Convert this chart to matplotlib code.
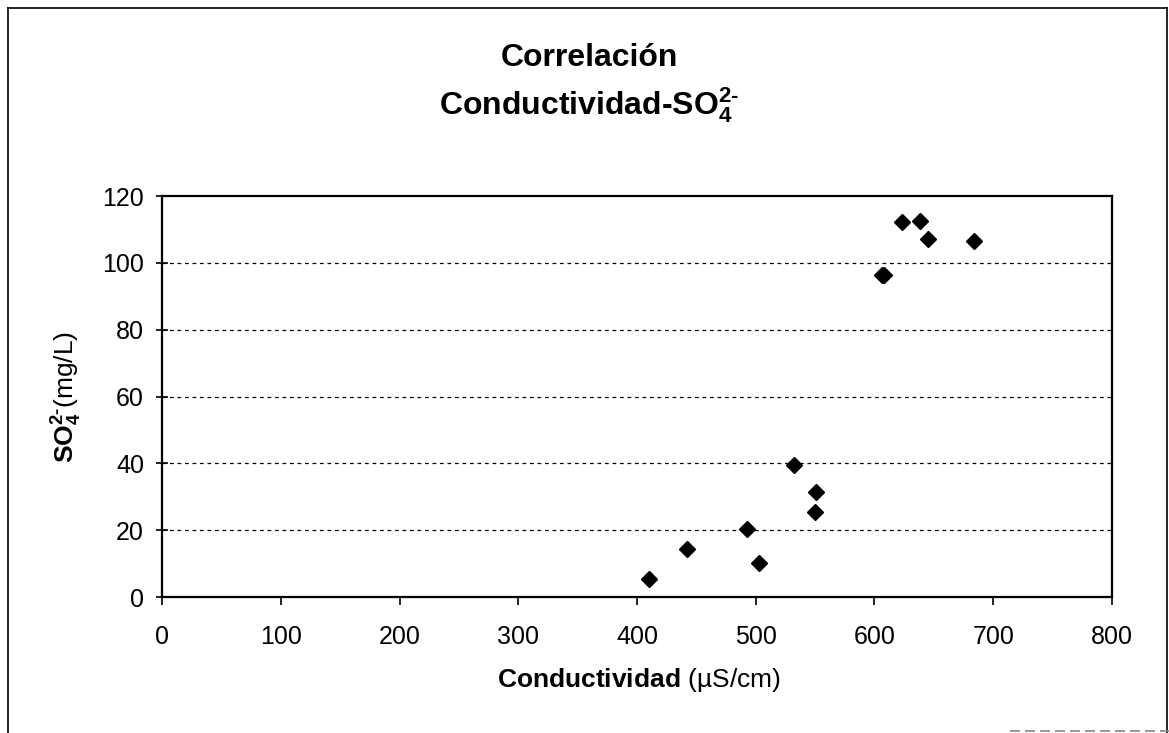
import matplotlib
matplotlib.use('Agg')
import matplotlib.pyplot as plt
from matplotlib.lines import Line2D

plt.rcParams['font.family'] = ['Liberation Sans', 'DejaVu Sans']
plt.rcParams['mathtext.fontset'] = 'custom'
plt.rcParams['mathtext.rm'] = 'Liberation Sans'
plt.rcParams['mathtext.it'] = 'Liberation Sans:italic'
plt.rcParams['mathtext.bf'] = 'Liberation Sans:bold'

# datos
conductividad = [410, 442, 493, 503, 532, 551, 550, 606, 608, 623, 638, 645, 684]
sulfato = [5.3, 14.3, 20.3, 10.3, 39.5, 31.5, 25.5, 96.5, 96.5, 112.3, 112.5, 107.2, 106.5]
x_ticks = [0, 100, 200, 300, 400, 500, 600, 700, 800]
y_ticks = [0, 20, 40, 60, 80, 100, 120]

fig = plt.figure(figsize=(11.69, 7.33), dpi=100)
ax = fig.add_axes([0.1386, 0.1855, 0.8126, 0.5471])

ax.plot(conductividad, sulfato, 'D', color='black', markersize=8, linestyle='none', zorder=3)

ax.set_xlim(0, 800)
ax.set_ylim(0, 120)
ax.set_xticks(x_ticks)
ax.set_yticks(y_ticks)
ax.tick_params(axis='x', direction='out', length=6, width=1.2, pad=14, labelsize=18)
ax.tick_params(axis='y', direction='inout', length=8, width=1.2, pad=9, labelsize=18)

for yv in y_ticks[1:-1]:
    ax.axhline(yv, color='black', linewidth=0.9, linestyle=(0, (3, 3)), zorder=1)

for s in ax.spines.values():
    s.set_linewidth(1.6)
    s.set_color('black')

# titulo en dos lineas
fig.text(0.504, 1 - 58 / 733, 'Correlación', ha='center', va='center',
         fontsize=23, fontweight='bold')
fig.text(0.504, 1 - 105 / 733, 'Conductividad-SO$_\\mathbf{4}^\\mathbf{2\u2010}$', ha='center', va='center',
         fontsize=23, fontweight='bold')

fig.text(639 / 1169, 1 - 680 / 733, r'$\mathbf{Conductividad}$ (µS/cm)', ha='center', va='center',
         fontsize=19)
fig.text(67 / 1169, 1 - 397 / 733, '$\\mathbf{SO_4^{2\u2010}}$(mg/L)', ha='center', va='center',
         fontsize=19, rotation=90)

# marco exterior
for xs, ys in [([8, 8], [8, 740]), ([8, 1167], [8, 8]), ([1167, 1167], [8, 740])]:
    fig.add_artist(Line2D([x / 1169 for x in xs], [1 - y / 733 for y in ys],
                          color='black', linewidth=1.2, transform=fig.transFigure))
fig.add_artist(Line2D([1010 / 1169, 1169 / 1169], [1 - 731 / 733, 1 - 731 / 733],
                      color='#888888', linewidth=1.2, linestyle=(0, (6, 3)), transform=fig.transFigure))

fig.savefig('out.png', dpi=100)
